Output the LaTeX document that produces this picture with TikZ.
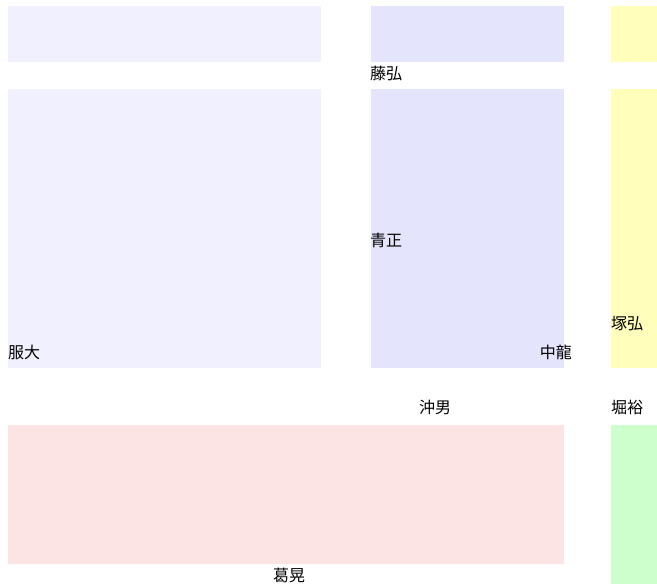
\documentclass[tikz,border=0pt]{standalone}
\usepackage{fontspec}
\usepackage{tikz}
\newfontfamily\cjk{Noto Sans CJK JP}
\definecolor{paleblue}{RGB}{240,240,255}
\definecolor{lavblue}{RGB}{228,228,252}
\definecolor{paleyellow}{RGB}{255,255,187}
\definecolor{palepink}{RGB}{252,228,228}
\definecolor{palegreen}{RGB}{204,255,204}
\tikzset{cell/.style = {draw=none},
         label/.style = {inner sep=0pt, anchor=west,
                         font=\cjk\fontsize{16}{19}\selectfont}}

\begin{document}
\begin{tikzpicture}[x=1pt, y=-1pt]
      \useasboundingbox [fill=white] (0, 0) rectangle (657, 584);

      \fill [cell, paleblue] (8, 6) rectangle (321, 62);
      \fill [cell, paleblue] (8, 89) rectangle (321, 368);
      \fill [cell, lavblue] (371, 6) rectangle (564, 62);
      \fill [cell, lavblue] (371, 89) rectangle (564, 368);
      \fill [cell, paleyellow] (611, 6) rectangle (657, 62);
      \fill [cell, paleyellow] (611, 89) rectangle (657, 368);
      \fill [cell, palepink] (8, 425) rectangle (564, 564);
      \fill [cell, palegreen] (611, 425) rectangle (657, 584);

      \node [label] (fuji) at (370, 73) {藤弘};
      \node [label] (ao) at (370, 240) {青正};
      \node [label] (fuku) at (8, 352) {服大};
      \node [label, anchor=east] (naka) at (572, 352) {中龍};
      \node [label] (tsuka) at (611, 324) {塚弘};
      \node [label] (oki) at (419, 407) {沖男};
      \node [label] (hori) at (611, 407) {堀裕};
      \node [label] (kuzu) at (273, 575) {葛晃};
    \end{tikzpicture}
\end{document}
